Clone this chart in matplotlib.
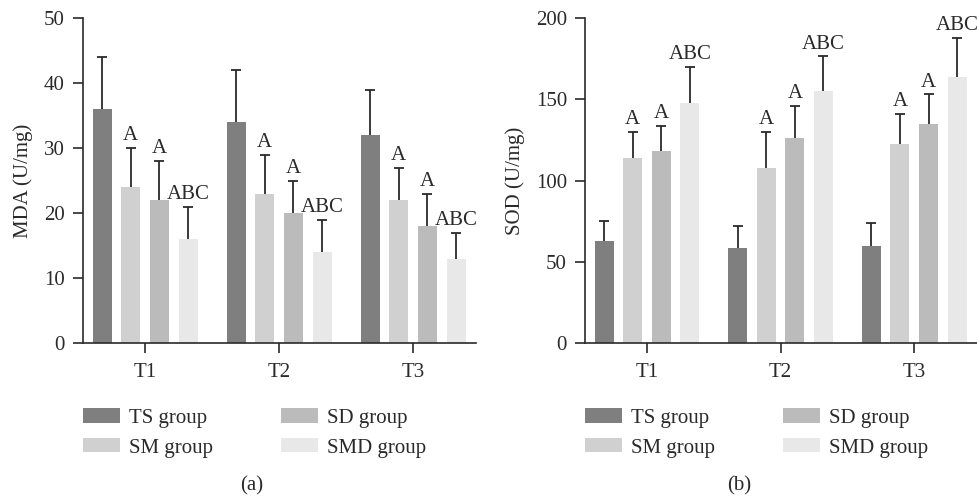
import matplotlib
matplotlib.use("Agg")
import matplotlib.pyplot as plt
import numpy as np
from matplotlib.patches import Patch

plt.rcParams['font.family'] = ['Liberation Serif', 'DejaVu Serif']
plt.rcParams['font.size'] = 15

timepoints = ["T1", "T2", "T3"]
groups = ["TS group", "SM group", "SD group", "SMD group"]
colors = ["#7f7f7f", "#d0d0d0", "#bbbbbb", "#e8e8e8"]
sig_labels = ["", "A", "A", "ABC"]

# MDA (U/mg): rows = groups, columns = T1..T3
mda_mean = [[36, 34, 32],
            [24, 23, 22],
            [22, 20, 18],
            [16, 14, 13]]
mda_err = [[8, 8, 7],
           [6, 6, 5],
           [6, 5, 5],
           [5, 5, 4]]

# SOD (U/mg)
sod_mean = [[63, 58.5, 59.5],
            [114, 108, 122.5],
            [118, 126, 135],
            [148, 155, 164]]
sod_err = [[12, 13.5, 14.5],
           [16, 22, 18.5],
           [15.5, 20, 18],
           [22, 21.5, 24]]

ink = "#2a2a2a"
fig = plt.figure(figsize=(9.78, 4.98), dpi=100)
axA = fig.add_axes([0.0849, 0.3112, 0.4018, 0.6526])
axB = fig.add_axes([0.5982, 0.3112, 0.4008, 0.6526])

step = 0.214
width = 0.142
x = np.arange(len(timepoints))

def draw(ax, means, errs, ymax, yticks, ylabel, off):
    for i, g in enumerate(groups):
        xs = x + (i - 1.5) * step
        m = np.array(means[i], dtype=float)
        e = np.array(errs[i], dtype=float)
        ax.bar(xs, m, width=width, color=colors[i], zorder=2)
        ax.vlines(xs, m, m + e, color=ink, lw=1.3, zorder=3)
        ax.plot(xs, m + e, ls='none', marker='_', ms=7, mew=1.3, color=ink, zorder=3)
        if sig_labels[i]:
            for xi, top in zip(xs, m + e):
                ax.annotate(sig_labels[i], (xi, top), xytext=(0, 5.5),
                            textcoords='offset points', ha='center',
                            va='baseline', color=ink, fontsize=15,
                            annotation_clip=False)
    ax.set_xlim(-0.463, 2.47)
    ax.set_ylim(0, ymax)
    ax.set_yticks(yticks)
    ax.set_xticks(x)
    ax.set_xticklabels(timepoints)
    ax.set_ylabel(ylabel, labelpad=8, color=ink)
    for s in ['top', 'right']:
        ax.spines[s].set_visible(False)
    for s in ['left', 'bottom']:
        ax.spines[s].set_color(ink)
        ax.spines[s].set_linewidth(1.2)
    ax.tick_params(axis='y', length=7, width=1.2, pad=6, colors=ink)
    ax.tick_params(axis='x', length=7.5, width=1.2, pad=7, colors=ink)
    handles = [Patch(facecolor=c, edgecolor='none') for c in colors]
    fig.legend(handles, groups, ncol=2, loc='center left',
               bbox_to_anchor=(off, 1 - 433 / 498), frameon=False, borderpad=0,
               borderaxespad=0,
               handlelength=1.78, handleheight=0.67, handletextpad=0.42,
               columnspacing=3.27, labelspacing=0.5, fontsize=15,
               labelcolor=ink)

draw(axA, mda_mean, mda_err, 50, [0, 10, 20, 30, 40, 50], "MDA (U/mg)", 83 / 978)
draw(axB, sod_mean, sod_err, 200, [0, 50, 100, 150, 200], "SOD (U/mg)", 585 / 978)

fig.text(252 / 978, 1 - 486 / 498, "(a)", ha='center', va='center', color=ink, fontsize=15)
fig.text(739 / 978, 1 - 486 / 498, "(b)", ha='center', va='center', color=ink, fontsize=15)

fig.savefig("out.png", dpi=100)
